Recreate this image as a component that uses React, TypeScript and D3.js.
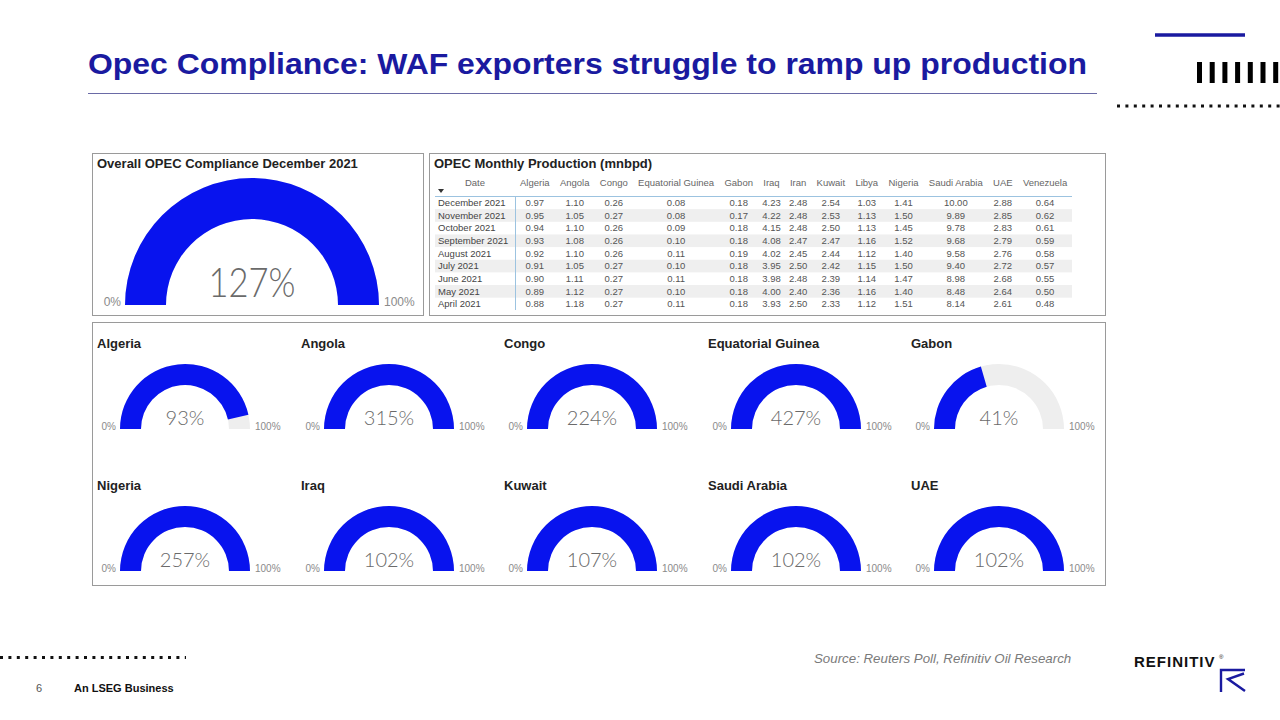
import * as d3 from "d3";
import { useEffect, useRef } from "react";

const TITLE = "Opec Compliance: WAF exporters struggle to ramp up production";

const overallValue = 127;

const gaugeCountries = [
  "Algeria", "Angola", "Congo", "Equatorial Guinea", "Gabon",
  "Nigeria", "Iraq", "Kuwait", "Saudi Arabia", "UAE",
];
const gaugeValues = [93, 315, 224, 427, 41, 257, 102, 107, 102, 102];

const tableColumns = [
  "Algeria", "Angola", "Congo", "Equatorial Guinea", "Gabon", "Iraq", "Iran",
  "Kuwait", "Libya", "Nigeria", "Saudi Arabia", "UAE", "Venezuela",
];
const tableDates = [
  "December 2021", "November 2021", "October 2021", "September 2021",
  "August 2021", "July 2021", "June 2021", "May 2021", "April 2021",
];
const production = [
  [0.97, 1.10, 0.26, 0.08, 0.18, 4.23, 2.48, 2.54, 1.03, 1.41, 10.00, 2.88, 0.64],
  [0.95, 1.05, 0.27, 0.08, 0.17, 4.22, 2.48, 2.53, 1.13, 1.50, 9.89, 2.85, 0.62],
  [0.94, 1.10, 0.26, 0.09, 0.18, 4.15, 2.48, 2.50, 1.13, 1.45, 9.78, 2.83, 0.61],
  [0.93, 1.08, 0.26, 0.10, 0.18, 4.08, 2.47, 2.47, 1.16, 1.52, 9.68, 2.79, 0.59],
  [0.92, 1.10, 0.26, 0.11, 0.19, 4.02, 2.45, 2.44, 1.12, 1.40, 9.58, 2.76, 0.58],
  [0.91, 1.05, 0.27, 0.10, 0.18, 3.95, 2.50, 2.42, 1.15, 1.50, 9.40, 2.72, 0.57],
  [0.90, 1.11, 0.27, 0.11, 0.18, 3.98, 2.48, 2.39, 1.14, 1.47, 8.98, 2.68, 0.55],
  [0.89, 1.12, 0.27, 0.10, 0.18, 4.00, 2.40, 2.36, 1.16, 1.40, 8.48, 2.64, 0.50],
  [0.88, 1.18, 0.27, 0.11, 0.18, 3.93, 2.50, 2.33, 1.12, 1.51, 8.14, 2.61, 0.48],
];

const NAVY = "#1a1aa0";
const GAUGE_BLUE = "#0813ee";
const GAUGE_BG = "#eeeeee";
const SANS = "'Liberation Sans', Arial, sans-serif";
const LIGHT = "Lato, 'Open Sans', Roboto, sans-serif";

const W = 1280;
const H = 720;

function drawGauge(
  g: d3.Selection<SVGGElement, unknown, null, undefined>,
  value: number,
  outer: number,
  inner: number,
  valueSize: number,
  valueDy: number,
  tickSize: number,
  valueWidth?: number,
) {
  const angle = d3.scaleLinear().domain([0, 100]).range([-Math.PI / 2, Math.PI / 2]).clamp(true);
  const arc = d3.arc<{ a0: number; a1: number }>()
    .innerRadius(inner)
    .outerRadius(outer)
    .startAngle((d) => d.a0)
    .endAngle((d) => d.a1);

  g.append("path")
    .attr("d", arc({ a0: angle(0), a1: angle(100) }))
    .attr("fill", GAUGE_BG);
  g.append("path")
    .attr("d", arc({ a0: angle(0), a1: angle(value) }))
    .attr("fill", GAUGE_BLUE);

  const vt = g.append("text")
    .attr("x", 0)
    .attr("y", valueDy)
    .attr("text-anchor", "middle")
    .style("font-family", LIGHT)
    .style("font-weight", "300")
    .style("font-size", `${valueSize}px`)
    .style("fill", "#6a6a6a")
    .text(`${value}%`);
  if (valueWidth) {
    vt.attr("textLength", valueWidth).attr("lengthAdjust", "spacingAndGlyphs");
  }

  g.append("text")
    .attr("x", -outer - 4)
    .attr("y", 1)
    .attr("text-anchor", "end")
    .style("font-family", SANS)
    .style("font-size", `${tickSize}px`)
    .style("fill", "#8a8a8a")
    .text("0%");

  g.append("text")
    .attr("x", outer + 5)
    .attr("y", 1)
    .style("font-family", SANS)
    .style("font-size", `${tickSize}px`)
    .style("fill", "#8a8a8a")
    .text("100%");
}

export default function App() {
  const svgRef = useRef<SVGSVGElement>(null);

  useEffect(() => {
    if (!svgRef.current) return;
    const svg = d3.select(svgRef.current);
    svg.selectAll("*").remove();

    svg.append("rect").attr("width", W).attr("height", H).attr("fill", "#ffffff");

    // Title + rule
    svg.append("text")
      .attr("x", 88)
      .attr("y", 74)
      .attr("textLength", 999)
      .attr("lengthAdjust", "spacingAndGlyphs")
      .style("font-family", SANS)
      .style("font-weight", "bold")
      .style("font-size", "30px")
      .style("fill", NAVY)
      .text(TITLE);
    svg.append("line")
      .attr("x1", 88).attr("x2", 1097)
      .attr("y1", 93.5).attr("y2", 93.5)
      .attr("stroke", "#6a6aa6").attr("stroke-width", 1);

    // Top-right decoration
    svg.append("line")
      .attr("x1", 1155).attr("x2", 1245)
      .attr("y1", 35).attr("y2", 35)
      .attr("stroke", NAVY).attr("stroke-width", 3.5);
    d3.range(7).forEach((i) => {
      svg.append("rect")
        .attr("x", 1197 + i * 12.7).attr("y", 62)
        .attr("width", 5).attr("height", 21)
        .attr("fill", "#000");
    });
    svg.append("line")
      .attr("x1", 1117).attr("x2", 1280)
      .attr("y1", 106).attr("y2", 106)
      .attr("stroke", "#111").attr("stroke-width", 3)
      .attr("stroke-dasharray", "3,5.4");

    // Bottom-left decoration
    svg.append("line")
      .attr("x1", 0).attr("x2", 186)
      .attr("y1", 657.5).attr("y2", 657.5)
      .attr("stroke", "#111").attr("stroke-width", 3)
      .attr("stroke-dasharray", "3,5.4");
    svg.append("text")
      .attr("x", 36).attr("y", 692)
      .style("font-family", SANS).style("font-size", "11px").style("fill", "#555")
      .text("6");
    svg.append("text")
      .attr("x", 74).attr("y", 692)
      .style("font-family", SANS).style("font-size", "11px")
      .style("font-weight", "bold").style("fill", "#111")
      .text("An LSEG Business");

    // Source + logo
    svg.append("text")
      .attr("x", 814).attr("y", 663)
      .style("font-family", SANS).style("font-size", "13.3px")
      .style("font-style", "italic").style("fill", "#7a7a7a")
      .text("Source: Reuters Poll, Refinitiv Oil Research");
    svg.append("text")
      .attr("x", 1134).attr("y", 667)
      .style("font-family", SANS).style("font-size", "15px")
      .style("font-weight", "bold").style("letter-spacing", "1px").style("fill", "#111")
      .text("REFINITIV");
    svg.append("text")
      .attr("x", 1219).attr("y", 659)
      .style("font-family", SANS).style("font-size", "6px").style("fill", "#111")
      .text("®");
    svg.append("path")
      .attr("d", "M1221,692 L1221,670 L1245,670 M1244,673.5 L1228,679 L1245,691")
      .attr("fill", "none").attr("stroke", NAVY).attr("stroke-width", 2.4);

    // Panels
    const panel = (x: number, y: number, w: number, h: number) =>
      svg.append("rect")
        .attr("x", x + 0.5).attr("y", y + 0.5)
        .attr("width", w).attr("height", h)
        .attr("fill", "#fff")
        .attr("stroke", "#9a9a9a").attr("stroke-width", 1);
    panel(92, 153, 331, 162);
    panel(429, 153, 676, 162);
    panel(92, 322, 1013, 263);

    const panelTitle = (x: number, y: number, t: string) =>
      svg.append("text")
        .attr("x", x).attr("y", y)
        .style("font-family", SANS).style("font-weight", "bold")
        .style("font-size", "13px").style("fill", "#222")
        .text(t);

    // Overall gauge
    panelTitle(97, 168, "Overall OPEC Compliance December 2021");
    const og = svg.append("g").attr("transform", "translate(252,305)");
    drawGauge(og, overallValue, 127, 86, 42, -8, 12, 87);

    // Table
    panelTitle(434, 168, "OPEC Monthly Production (mnbpd)");
    const table = svg.append("g");
    const headerY = 186;
    const rowY0 = 206;
    const rowH = 12.65;
    const tableLeft = 435;
    const tableRight = 1072;

    tableDates.forEach((_, i) => {
      if (i % 2 === 1) {
        table.append("rect")
          .attr("x", tableLeft).attr("y", rowY0 + i * rowH - 9.5)
          .attr("width", tableRight - tableLeft).attr("height", rowH)
          .attr("fill", "#efefef");
      }
    });

    table.append("line")
      .attr("x1", tableLeft).attr("x2", tableRight)
      .attr("y1", 196.5).attr("y2", 196.5)
      .attr("stroke", "#9cc3e0").attr("stroke-width", 1);
    table.append("line")
      .attr("x1", 515.5).attr("x2", 515.5)
      .attr("y1", 197).attr("y2", 310)
      .attr("stroke", "#9cc3e0").attr("stroke-width", 1);

    table.append("text")
      .attr("x", 475).attr("y", headerY)
      .attr("text-anchor", "middle")
      .style("font-family", SANS).style("font-size", "9.5px").style("fill", "#666")
      .text("Date");
    table.append("path")
      .attr("d", "M438,189 L444,189 L441,193 Z")
      .attr("fill", "#333");

    // header columns laid out by measured label width
    let cursor = 520;
    const centers: number[] = [];
    tableColumns.forEach((c) => {
      const t = table.append("text")
        .attr("y", headerY)
        .attr("text-anchor", "middle")
        .style("font-family", SANS).style("font-size", "9.5px").style("fill", "#666")
        .text(c);
      const w = (t.node() as SVGTextElement).getComputedTextLength();
      const cx = cursor + w / 2;
      t.attr("x", cx);
      centers.push(cx);
      cursor += w + 10.3;
    });

    tableDates.forEach((d, i) => {
      const y = rowY0 + i * rowH;
      table.append("text")
        .attr("x", 438).attr("y", y)
        .style("font-family", SANS).style("font-size", "9.5px").style("fill", "#444")
        .text(d);
      production[i].forEach((v, j) => {
        table.append("text")
          .attr("x", centers[j]).attr("y", y)
          .attr("text-anchor", "middle")
          .style("font-family", SANS).style("font-size", "9.5px").style("fill", "#555")
          .text(v.toFixed(2));
      });
    });

    // Small gauges
    const colX = d3.scaleLinear().domain([0, 1]).range([97, 300.5]);
    gaugeCountries.forEach((c, i) => {
      const col = i % 5;
      const row = Math.floor(i / 5);
      const left = Math.round(colX(col));
      const top = row * 142;
      panelTitle(left, 348 + top, c);
      const g = svg.append("g")
        .attr("transform", `translate(${left + 88},${429 + top})`);
      drawGauge(g, gaugeValues[i], 65, 44, 20, -4, 10);
    });
  }, []);

  return (
    <svg
      ref={svgRef}
      width={W}
      height={H}
      style={{ position: "absolute", left: 0, top: 0, display: "block" }}
    />
  );
}
